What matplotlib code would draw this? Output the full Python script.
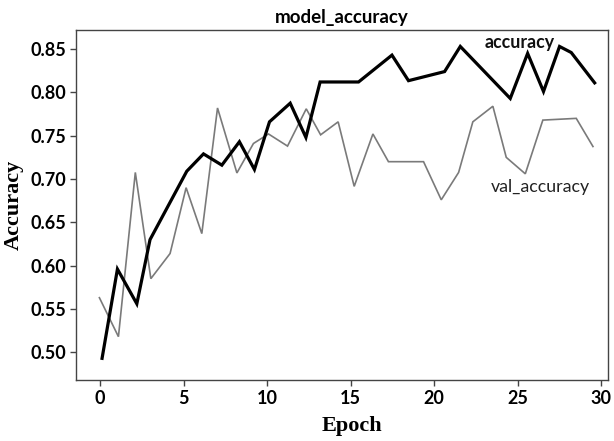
import matplotlib
matplotlib.use("Agg")
import matplotlib.pyplot as plt

# accuracy series (epoch positions as drawn, values)
acc_epoch = [0.12, 1.04, 2.2, 2.99, 5.19, 6.19, 7.29, 8.34, 9.24, 10.14, 11.38, 12.32,
             13.17, 15.47, 17.47, 18.46, 20.62, 21.56, 24.55, 25.59, 26.54, 27.5, 28.2, 29.6]
acc_values = [0.493, 0.596, 0.556, 0.630, 0.709, 0.729, 0.716, 0.743, 0.711, 0.766, 0.7875, 0.748,
              0.812, 0.812, 0.843, 0.8135, 0.824, 0.853, 0.793, 0.845, 0.801, 0.853, 0.846, 0.811]

# val_accuracy series
val_epoch = [-0.04, 1.1, 2.11, 3.04, 4.19, 5.15, 6.09, 7.03, 8.19, 9.18, 10.08, 11.22, 12.34,
             13.2, 14.25, 15.21, 16.33, 17.26, 19.36, 20.42, 21.46, 22.31, 23.51, 24.31,
             25.45, 26.5, 28.5, 29.5]
val_values = [0.563, 0.518, 0.7076, 0.585, 0.614, 0.690, 0.637, 0.782, 0.707, 0.741, 0.752, 0.738,
              0.781, 0.751, 0.766, 0.6915, 0.752, 0.720, 0.720, 0.676, 0.7076, 0.766, 0.784,
              0.725, 0.706, 0.768, 0.770, 0.7375]

x_ticks = [0, 5, 10, 15, 20, 25, 30]
y_ticks = [0.50, 0.55, 0.60, 0.65, 0.70, 0.75, 0.80, 0.85]

sans = ["Lato", "DejaVu Sans"]
serif = ["Liberation Serif", "DejaVu Serif"]

fig = plt.figure(figsize=(6.14, 4.41), dpi=100)
ax = fig.add_axes([76 / 614, 61 / 441, 532 / 614, 350 / 441])

ax.plot(val_epoch, val_values, color="#7a7a7a", linewidth=1.2, solid_joinstyle="miter")
ax.plot(acc_epoch, acc_values, color="black", linewidth=2.3, solid_joinstyle="miter")

ax.set_xlim(-1.44, 30.4)
ax.set_ylim(0.468, 0.872)
ax.set_xticks(x_ticks)
ax.set_xticklabels([str(t) for t in x_ticks], family=sans, fontweight="bold", fontsize=13)
ax.set_yticks(y_ticks)
ax.set_yticklabels([f"{t:.2f}" for t in y_ticks], family=sans, fontweight="bold", fontsize=13)

for s in ax.spines.values():
    s.set_color("#444444")
    s.set_linewidth(1.0)
ax.tick_params(direction="out", length=4, width=1, color="#444444", pad=3)

ax.set_title("model_accuracy", family=sans, fontweight="bold", fontsize=13.5, pad=5)
ax.set_xlabel("Epoch", family=serif, fontweight="bold", fontsize=16)
ax.xaxis.set_label_coords((352 - 76) / 532, -0.103)
ax.set_ylabel("Accuracy", family=serif, fontweight="bold", fontsize=16, labelpad=5)

ax.text(25.1, 0.857, "accuracy", family=sans, fontweight="bold", fontsize=12.8,
        ha="center", va="center", color="#111111")
ax.text(26.35, 0.691, "val_accuracy", family=sans, fontsize=12.8,
        ha="center", va="center", color="#222222")

fig.savefig("out.png", dpi=100)
